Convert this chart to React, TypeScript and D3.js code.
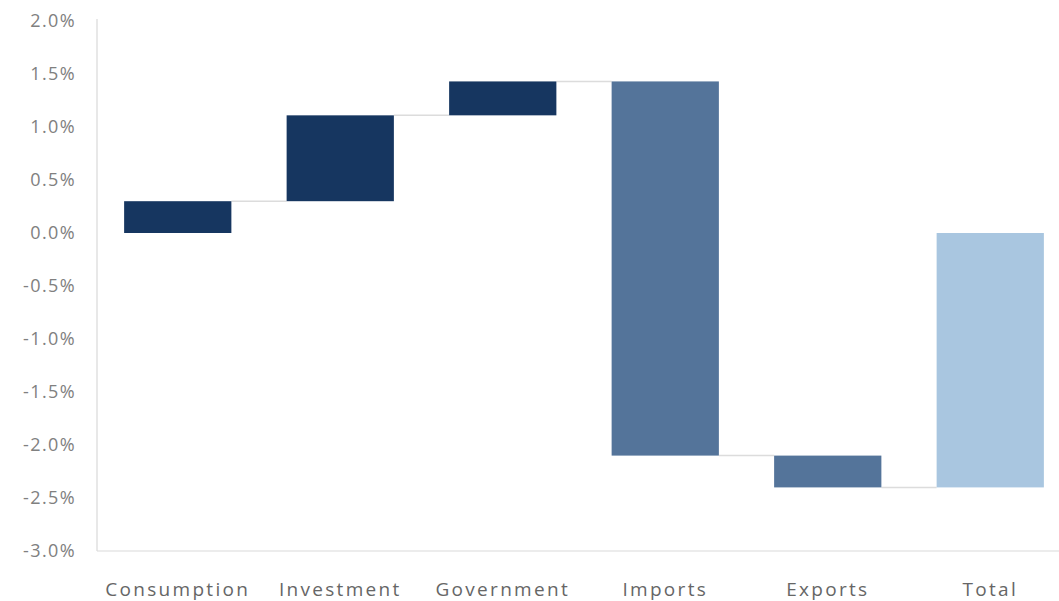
import React from "react";
import * as d3 from "d3";

const categories = ["Consumption", "Investment", "Government", "Imports", "Exports", "Total"];
const changes = [0.30, 0.81, 0.32, -3.53, -0.30];
const totalValue = -2.40;
const barKinds = ["domestic", "domestic", "domestic", "trade", "trade", "total"];
const yTicks = [2.0, 1.5, 1.0, 0.5, 0.0, -0.5, -1.0, -1.5, -2.0, -2.5, -3.0];

const colors: Record<string, string> = {
  domestic: "#163660",
  trade: "#54749a",
  total: "#a9c6e0",
};

export default function App() {
  const width = 1059;
  const height = 601;
  const x0 = 97;
  const yTop = 21;
  const yBottom = 551;

  const x = d3
    .scaleBand<string>()
    .domain(categories)
    .range([96.5, 96.5 + 162.5 * 6])
    .paddingInner(0.34)
    .paddingOuter(0.17);
  const y = d3.scaleLinear().domain([-3, 2]).range([yBottom, yTop]);

  const bars: { cat: string; start: number; end: number; kind: string }[] = [];
  let cum = 0;
  changes.forEach((c, i) => {
    bars.push({ cat: categories[i], start: cum, end: cum + c, kind: barKinds[i] });
    cum += c;
  });
  bars.push({ cat: categories[5], start: 0, end: totalValue, kind: barKinds[5] });

  const fmt = (v: number) => `${v.toFixed(1)}%`;
  const font = "'Open Sans', 'DejaVu Sans', sans-serif";

  return (
    <svg width={width} height={height} style={{ position: "absolute", left: 0, top: 0, background: "#fff" }}>
      <line x1={x0} x2={x0} y1={yTop - 2} y2={yBottom} stroke="#d9d9d9" strokeWidth={1.2} />
      <line x1={x0} x2={width} y1={yBottom} y2={yBottom} stroke="#d9d9d9" strokeWidth={1.2} />
      {yTicks.map((t) => (
        <text
          key={t}
          x={76}
          y={y(t)}
          dy="0.35em"
          textAnchor="end"
          fontFamily={font}
          fontSize={18}
          fill="#808080"
          letterSpacing={1.4}
        >
          {fmt(t)}
        </text>
      ))}
      {bars.slice(0, -1).map((b, i) => {
        const next = bars[i + 1];
        return (
          <line
            key={`c${i}`}
            x1={(x(b.cat) as number) + x.bandwidth()}
            x2={x(next.cat) as number}
            y1={y(b.end)}
            y2={y(b.end)}
            stroke="#dcdcdc"
            strokeWidth={1.5}
          />
        );
      })}
      {bars.map((b) => (
        <rect
          key={b.cat}
          x={x(b.cat)}
          y={y(Math.max(b.start, b.end))}
          width={x.bandwidth()}
          height={Math.abs(y(b.start) - y(b.end))}
          fill={colors[b.kind]}
        />
      ))}
      {categories.map((c) => (
        <text
          key={c}
          x={(x(c) as number) + x.bandwidth() / 2}
          y={589}
          dy="0.35em"
          textAnchor="middle"
          fontFamily={font}
          fontSize={19}
          fill="#666"
          letterSpacing={2.3}
        >
          {c}
        </text>
      ))}
    </svg>
  );
}
